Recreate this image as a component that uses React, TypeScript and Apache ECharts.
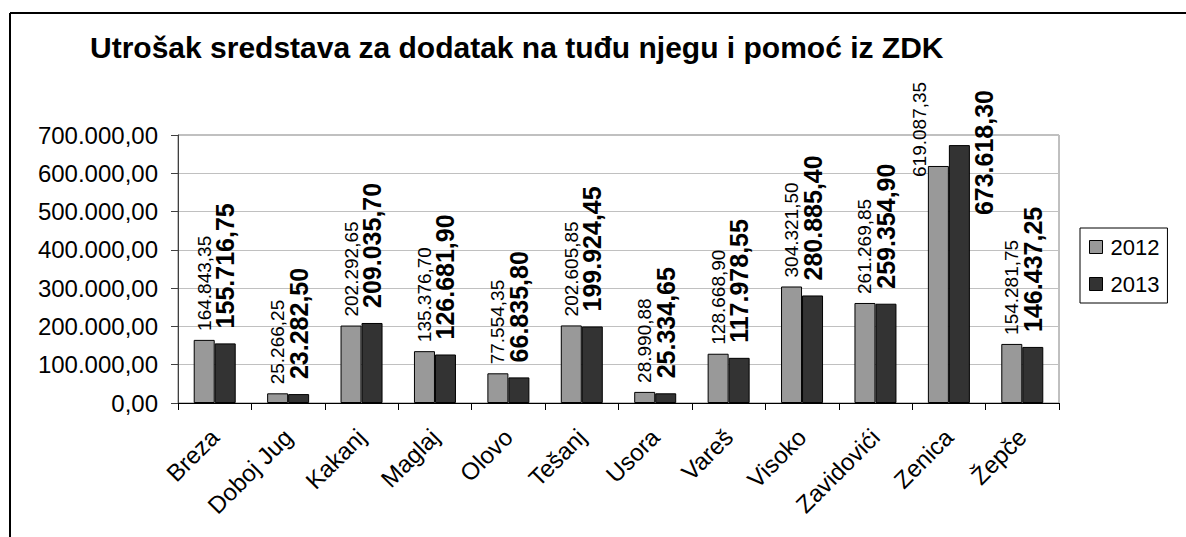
import React, { useEffect, useRef } from "react";
import * as echarts from "echarts";

const categories = ["Breza", "Doboj Jug", "Kakanj", "Maglaj", "Olovo", "Tešanj", "Usora", "Vareš", "Visoko", "Zavidovići", "Zenica", "Žepče"];
const values2012 = [164843.35, 25266.25, 202292.65, 135376.7, 77554.35, 202605.85, 28990.88, 128668.9, 304321.5, 261269.85, 619087.35, 154281.75];
const values2013 = [155716.75, 23282.5, 209035.7, 126681.9, 66835.8, 199924.45, 25334.65, 117978.55, 280885.4, 259354.9, 673618.3, 146437.25];
const seriesNames = ["2012", "2013"];
const titleText = "Utrošak sredstava za dodatak na tuđu njegu i pomoć iz ZDK";

const FONT = "'Liberation Sans', Arial, sans-serif";

function fmt(v: number): string {
  const fixed = v.toFixed(2);
  const [intPart, dec] = fixed.split(".");
  const withSep = intPart.replace(/\B(?=(\d{3})+(?!\d))/g, ".");
  return withSep + "," + dec;
}

export default function App() {
  const ref = useRef<HTMLDivElement>(null);
  useEffect(() => {
    if (!ref.current) return;
    const chart = echarts.init(ref.current, null, { renderer: "svg" });
    const zenicaIdx = categories.indexOf("Zenica");
    const data2012 = values2012.map((v, i) =>
      i === zenicaIdx
        ? { value: v, label: { position: [-8, 11], align: "left", verticalAlign: "middle" } }
        : v
    );
    const data2013 = values2013.map((v, i) =>
      i === zenicaIdx
        ? { value: v, label: { position: [35, 70], align: "left", verticalAlign: "middle" } }
        : v
    );
    chart.setOption({
      animation: false,
      backgroundColor: "#ffffff",
      textStyle: { fontFamily: FONT },
      title: {
        text: titleText,
        left: 90,
        top: 32,
        padding: 0,
        textStyle: { fontFamily: FONT, fontSize: 30, fontWeight: "bold", color: "#000" },
      },
      legend: {
        orient: "vertical",
        left: 1080,
        top: 228,
        width: 91,
        padding: [8, 8, 8, 9],
        itemGap: 15,
        itemWidth: 13,
        itemHeight: 13,
        itemStyle: { borderColor: "#000", borderWidth: 1 },
        borderColor: "#000",
        borderWidth: 1,
        icon: "rect",
        textStyle: { fontFamily: FONT, fontSize: 22, color: "#000", padding: [0, 0, 0, 3] },
        data: seriesNames,
      },
      grid: {
        left: 178,
        top: 135,
        right: 127,
        bottom: 134,
        show: true,
        borderColor: "#808080",
        borderWidth: 1,
        containLabel: false,
      },
      xAxis: {
        type: "category",
        data: categories,
        axisLine: { show: true, lineStyle: { color: "#000", width: 1 } },
        axisTick: { show: true, length: 7, lineStyle: { color: "#000" } },
        axisLabel: {
          rotate: 45,
          margin: 30,
          fontSize: 24,
          fontFamily: FONT,
          color: "#000",
          interval: 0,
        },
      },
      yAxis: {
        type: "value",
        min: 0,
        max: 700000,
        interval: 100000,
        axisLine: { show: true, lineStyle: { color: "#404040", width: 1 } },
        axisTick: { show: true, length: 7, lineStyle: { color: "#404040" } },
        splitLine: { show: true, lineStyle: { color: "#c0c0c0", width: 1 } },
        axisLabel: {
          margin: 20,
          fontSize: 24,
          fontFamily: FONT,
          color: "#000",
          formatter: (v: number) => fmt(v),
        },
      },
      series: [
        {
          name: seriesNames[0],
          type: "bar",
          data: data2012,
          barWidth: 21,
          barGap: "0%",
          itemStyle: { color: "#999999", borderColor: "#000", borderWidth: 1 },
          label: {
            show: true,
            position: "top",
            rotate: 90,
            align: "left",
            verticalAlign: "middle",
            distance: 9,
            fontSize: 19,
            fontFamily: FONT,
            color: "#000",
            formatter: (p: any) => fmt(p.value),
          },
        },
        {
          name: seriesNames[1],
          type: "bar",
          data: data2013,
          barWidth: 21,
          barGap: "0%",
          itemStyle: { color: "#333333", borderColor: "#000", borderWidth: 1 },
          label: {
            show: true,
            position: "top",
            rotate: 90,
            align: "left",
            verticalAlign: "middle",
            distance: 15,
            fontSize: 25,
            fontWeight: "bold",
            fontFamily: FONT,
            color: "#000",
            formatter: (p: any) => fmt(p.value),
          },
        },
      ],
      graphic: [
        { type: "line", shape: { x1: 10, y1: 13, x2: 1186, y2: 13 }, style: { stroke: "#000", lineWidth: 2 } },
        { type: "line", shape: { x1: 10, y1: 13, x2: 10, y2: 537 }, style: { stroke: "#000", lineWidth: 2 } },
      ],
    });
    return () => chart.dispose();
  }, []);
  return <div ref={ref} style={{ position: "fixed", left: 0, top: 0, width: 1186, height: 537 }} />;
}
